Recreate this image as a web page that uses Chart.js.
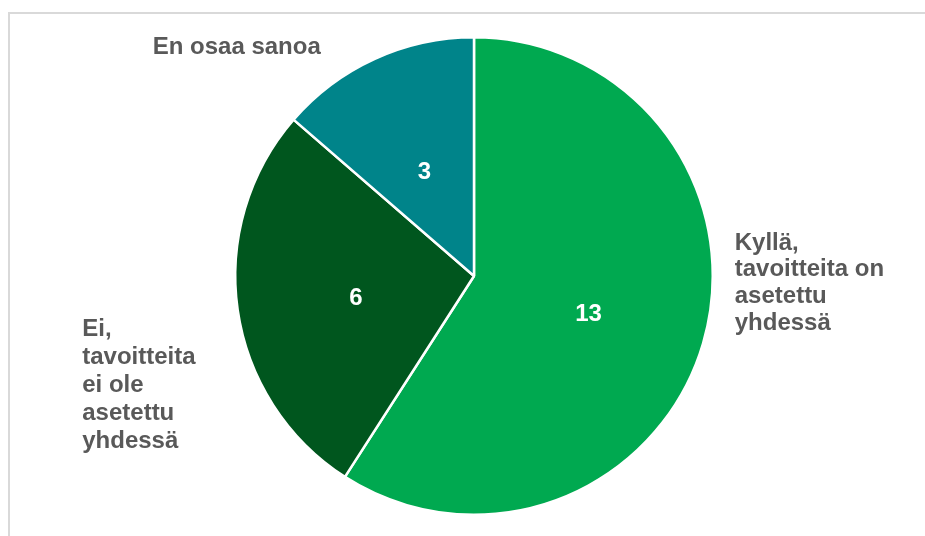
<!DOCTYPE html>
<html>
<head>
<meta charset="utf-8">
<script src="https://cdn.jsdelivr.net/npm/chart.js@4/dist/chart.umd.min.js"></script>
<style>
  html, body { margin: 0; padding: 0; background: #fff; }
  #wrap { position: relative; width: 925px; height: 536px; overflow: hidden; }
  #frame { position: absolute; left: 8px; top: 12px; width: 1000px; height: 600px;
           border-top: 2px solid #d9d9d9; border-left: 2px solid #d9d9d9; box-sizing: border-box; }
  canvas { position: absolute; left: 0; top: 0; }
</style>
</head>
<body>
<div id="wrap">
  <div id="frame"></div>
  <canvas id="c" width="925" height="536"></canvas>
</div>
<script>
const categories = [
  ["Kyllä,", "tavoitteita on", "asetettu", "yhdessä"],
  ["Ei,", "tavoitteita", "ei ole", "asetettu", "yhdessä"],
  ["En osaa sanoa"]
];
const values = [13, 6, 3];
const colors = ["#00A950", "#00561E", "#00848A"];

// label placement relative to pie centre / radius (dx, dy in px, align, line height)
const labelPlacement = [
  { dx: (R) => R + 22, dy: () => -33, align: "left", lh: 26.7 },
  { dx: (R) => -R - 153, dy: () => 53, align: "left", lh: 28 },
  { dx: (R) => -R + 1.5, dy: (R) => -R + 10, align: "center", lh: 27 }
];

const FONT = 'bold 24px "Liberation Sans", Arial, sans-serif';

const labelsPlugin = {
  id: "pieLabels",
  afterDatasetsDraw(chart) {
    const ctx = chart.ctx;
    const meta = chart.getDatasetMeta(0);
    ctx.save();
    ctx.font = FONT;
    ctx.textBaseline = "middle";
    meta.data.forEach((arc, i) => {
      const p = arc.getProps(["x", "y", "startAngle", "endAngle", "outerRadius"], true);
      const mid = (p.startAngle + p.endAngle) / 2;
      const r = p.outerRadius * 0.5;
      ctx.fillStyle = "#ffffff";
      ctx.textAlign = "center";
      ctx.fillText(String(values[i]), p.x + Math.cos(mid) * r, p.y + Math.sin(mid) * r + 5);

      const pl = labelPlacement[i];
      const lx = p.x + pl.dx(p.outerRadius);
      const ly = p.y + pl.dy(p.outerRadius);
      ctx.fillStyle = "#595959";
      ctx.textAlign = pl.align;
      categories[i].forEach((line, k) => {
        ctx.fillText(line, lx, ly + k * pl.lh);
      });
    });
    ctx.restore();
  }
};

new Chart(document.getElementById("c"), {
  type: "pie",
  data: {
    labels: categories.map(c => c.join(" ")),
    datasets: [{
      data: values,
      backgroundColor: colors,
      borderColor: "#ffffff",
      borderWidth: 2.5
    }]
  },
  options: {
    responsive: false,
    animation: false,
    layout: { padding: { left: 234, right: 211, top: 36, bottom: 20 } },
    plugins: {
      legend: { display: false },
      tooltip: { enabled: false }
    }
  },
  plugins: [labelsPlugin]
});
</script>
</body>
</html>
